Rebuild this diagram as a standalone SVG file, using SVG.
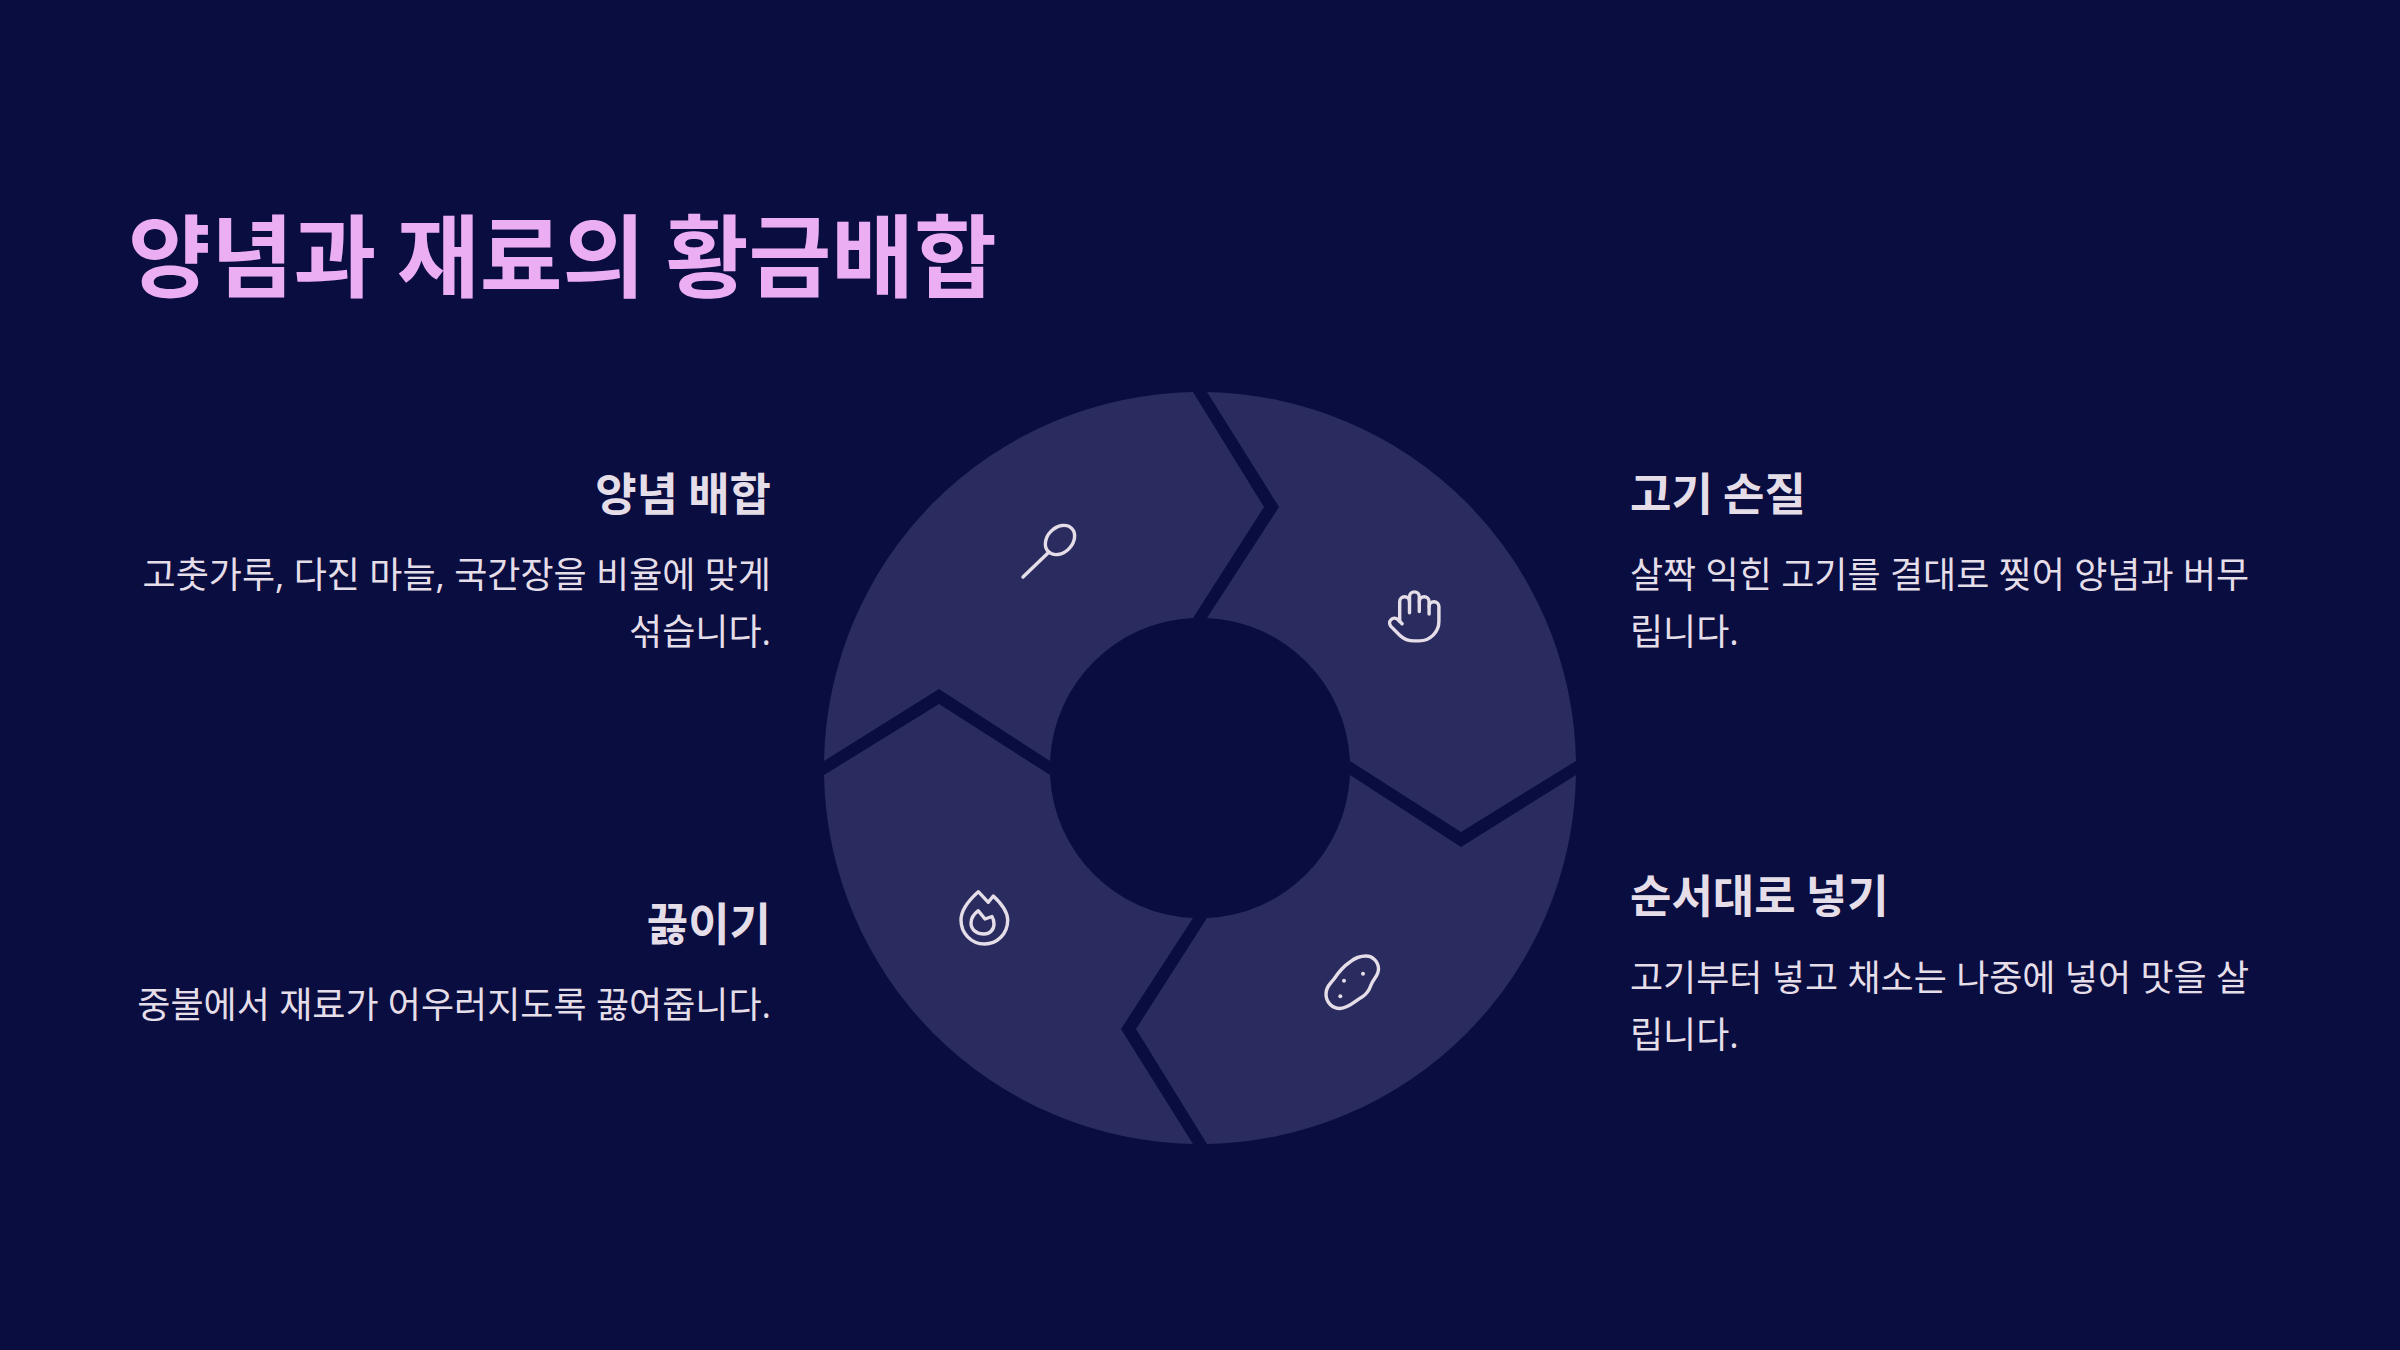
<svg xmlns="http://www.w3.org/2000/svg" width="2400" height="1350" viewBox="0 0 2400 1350">
<style>
.f{font-family:"Noto Sans CJK KR","Noto Sans",sans-serif}
.o{font-family:"Open Sans","Noto Sans CJK KR",sans-serif}
.t{font-size:90px;font-weight:700;fill:#ECAEF3}
.h{font-size:45px;font-weight:700;fill:#E5DEE9}
.b{font-size:36px;font-weight:400;fill:#E5DEE9}
.e{text-anchor:end}
.seg{fill:#2A2C5F}
.i{fill:none;stroke:#E5DEE9;stroke-width:3.400;stroke-linecap:round;stroke-linejoin:round}
.d{fill:#E5DEE9}
</style>
<rect width="2400" height="1350" fill="#090D3F"/>
<text class="f t" x="128" y="290">양념과 재료의 황금배합</text>
<g id="seg-mix">
<path class="seg" d="M824 761A376 376 0 0 1 1193 392L1264 507L1193 618A150 150 0 0 0 1050 761L939 689Z"/>
<g id="icon-spoon">
<ellipse class="i" cx="1060" cy="540" rx="16.500" ry="12.500" transform="rotate(-45 1060 540)"/>
<path class="i" d="M1049 552L1023 577"/>
</g>
<text class="f h e" x="771" y="511">양념 배합</text>
<text class="o b e" x="771" y="588">고춧가루, 다진 마늘, 국간장을 비율에 맞게</text>
<text class="o b e" x="771" y="645">섞습니다.</text>
</g>
<g id="seg-meat">
<path class="seg" d="M1207 392A376 376 0 0 1 1576 761L1461 832L1350 761A150 150 0 0 0 1207 618L1279 507Z"/>
<g id="icon-hand" transform="translate(1385 587) scale(2.450)">
<path class="i" style="stroke-width:1.400" d="M18 11V6a2 2 0 0 0-2-2a2 2 0 0 0-2 2"/>
<path class="i" style="stroke-width:1.400" d="M14 10V4a2 2 0 0 0-2-2a2 2 0 0 0-2 2v2"/>
<path class="i" style="stroke-width:1.400" d="M10 10.500V6a2 2 0 0 0-2-2a2 2 0 0 0-2 2v8"/>
<path class="i" style="stroke-width:1.400" d="M18 8a2 2 0 1 1 4 0v6a8 8 0 0 1-8 8h-2c-2.800 0-4.500-.86-5.990-2.340l-3.600-3.600a2 2 0 0 1 2.830-2.820L7 15"/>
</g>
<text class="f h" x="1630" y="511">고기 손질</text>
<text class="o b" x="1630" y="588">살짝 익힌 고기를 결대로 찢어 양념과 버무</text>
<text class="o b" x="1630" y="645">립니다.</text>
</g>
<g id="seg-order">
<path class="seg" d="M1576 775A376 376 0 0 1 1207 1144L1136 1029L1207 918A150 150 0 0 0 1350 775L1461 847Z"/>
<g id="icon-potato">
<path class="i" d="M1350 962C1356 957 1361 956 1366 956C1373 956 1378.500 962 1378.500 969C1378.500 976 1373 979 1371 985C1369 991 1367 994 1362 997C1355 1001 1349 1008 1340 1008.500C1332 1008.500 1326 1002 1326 994C1326 987 1330 984 1334 979C1338 973 1344 966 1350 962Z"/>
<circle class="d" cx="1344" cy="980.700" r="2"/>
<circle class="d" cx="1363" cy="973.700" r="2"/>
<circle class="d" cx="1340.300" cy="996.300" r="2"/>
</g>
<text class="f h" x="1630" y="913">순서대로 넣기</text>
<text class="o b" x="1630" y="991">고기부터 넣고 채소는 나중에 넣어 맛을 살</text>
<text class="o b" x="1630" y="1048">립니다.</text>
</g>
<g id="seg-boil">
<path class="seg" d="M1193 1144A376 376 0 0 1 824 775L939 704L1050 775A150 150 0 0 0 1193 918L1121 1029Z"/>
<g id="icon-flame">
<path class="i" d="M978.300 891.700L988.300 902.300L993.300 896C1003 905 1007.700 913 1007.700 920C1007.700 934 997 944 984.500 944C971 944 961 933 961 920C961 910 969 900 978.300 891.700Z"/>
<path class="i" d="M978.300 910.700L985 919L992 916.500C993.500 919 994 922 994 924C994 930 989.500 934 984 934C977 934 971 930 971 923C971 918 974 914 978.300 910.700Z"/>
</g>
<text class="f h e" x="771" y="941">끓이기</text>
<text class="o b e" x="771" y="1018">중불에서 재료가 어우러지도록 끓여줍니다.</text>
</g>
</svg>
